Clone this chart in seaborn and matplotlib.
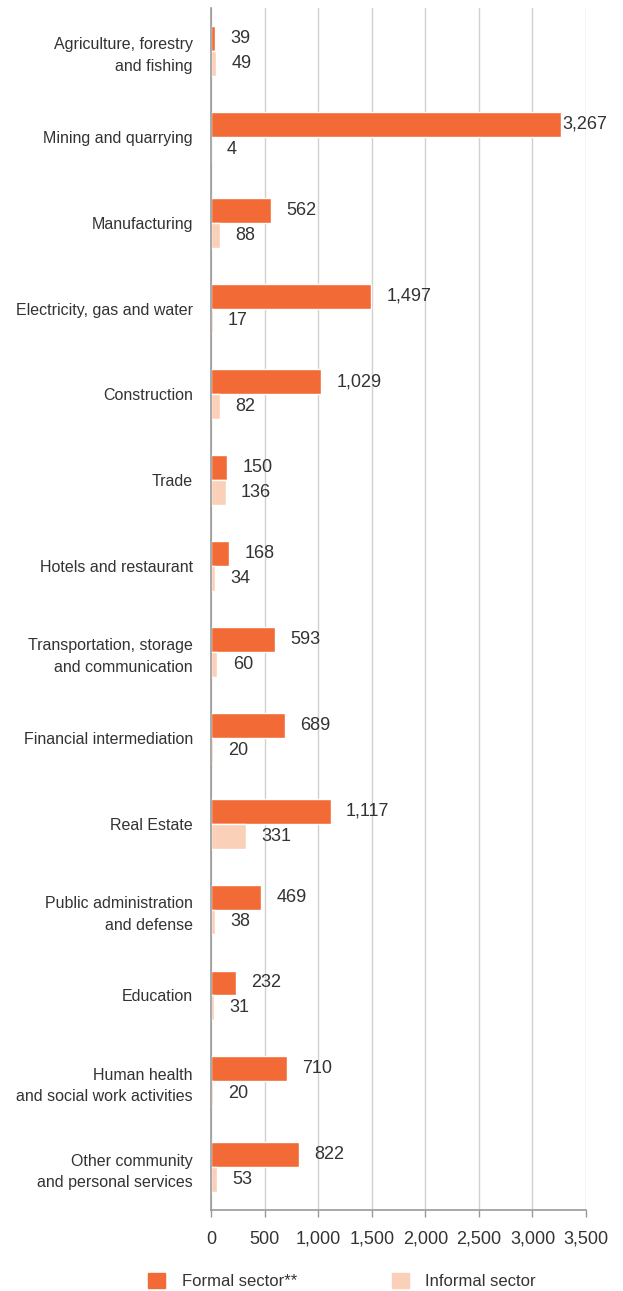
import pandas as pd
import numpy as np
import matplotlib.pyplot as plt
import seaborn as sns
from matplotlib.patches import Patch

# Data
sectors = ['Agriculture, forestry\nand fishing', 'Mining and quarrying', 'Manufacturing',
           'Electricity, gas and water', 'Construction', 'Trade', 'Hotels and restaurant',
           'Transportation, storage\nand communication', 'Financial intermediation',
           'Real Estate', 'Public administration\nand defense', 'Education',
           'Human health\nand social work activities', 'Other community\nand personal services']
formal = [39, 3267, 562, 1497, 1029, 150, 168, 593, 689, 1117, 469, 232, 710, 822]
informal = [49, 4, 88, 17, 82, 136, 34, 60, 20, 331, 38, 31, 20, 53]
series_names = ['Formal sector**', 'Informal sector']
colors = ['#F26A35', '#FBD0B9']

df = pd.DataFrame({'sector': sectors * 2,
                   'value': formal + informal,
                   'series': [series_names[0]] * len(sectors) + [series_names[1]] * len(sectors)})

sns.set_style('white')
plt.rcParams['font.family'] = ['Liberation Sans', 'DejaVu Sans']
txt = '#333333'
fs = 11.5
fs_num = 13

fig = plt.figure(figsize=(6.23, 12.91), dpi=100)
ax = fig.add_axes([0.3387, 0.0627, 0.6020, 0.9311])

sns.barplot(data=df, y='sector', x='value', hue='series', orient='h',
            palette=colors, width=0.58, ax=ax, legend=False, saturation=1)

# value labels
for cont in ax.containers:
    labels = [f'{v:,.0f}' for v in cont.datavalues]
    anns = ax.bar_label(cont, labels=labels, padding=11, fontsize=fs_num, color=txt)
    for a, v in zip(anns, cont.datavalues):
        if v > 3000:  # the long bar: label sits right at its end
            a.xyann = (1, 0)

ax.set_xlim(0, 3500)
ax.set_ylim(len(sectors) - 0.5, -0.5)
ax.set_xticks(np.arange(0, 3501, 500))
ax.set_xticklabels([f'{v:,}' for v in range(0, 3501, 500)], fontsize=fs_num, color=txt)
ax.grid(axis='x', color='#d0d0d0', linewidth=1)
ax.set_axisbelow(True)
ax.set_xlabel('')
ax.set_ylabel('')
ax.tick_params(axis='y', length=0, labelsize=fs, labelcolor=txt, pad=13)
for lbl in ax.get_yticklabels():
    lbl.set_horizontalalignment('right')
    lbl.set_linespacing(1.55)
ax.set_yticks(np.arange(len(sectors) + 1) - 0.5, minor=True)
ax.tick_params(axis='y', which='minor', length=5, color='#999999', width=1)
ax.tick_params(axis='x', length=5, color='#999999', width=1, pad=10, bottom=True)

for s in ['top', 'right']:
    ax.spines[s].set_visible(False)
for s in ['left', 'bottom']:
    ax.spines[s].set_color('#999999')
    ax.spines[s].set_linewidth(1.2)

handles = [Patch(color=c, label=n) for c, n in zip(colors, series_names)]
fig.legend(handles=handles, loc='center', bbox_to_anchor=(0.549, 0.008), ncol=2,
           frameon=False, fontsize=12, handlelength=1.0, handleheight=1.0,
           columnspacing=5.7, handletextpad=1.0, labelcolor=txt)

fig.savefig('out.png', dpi=100)
